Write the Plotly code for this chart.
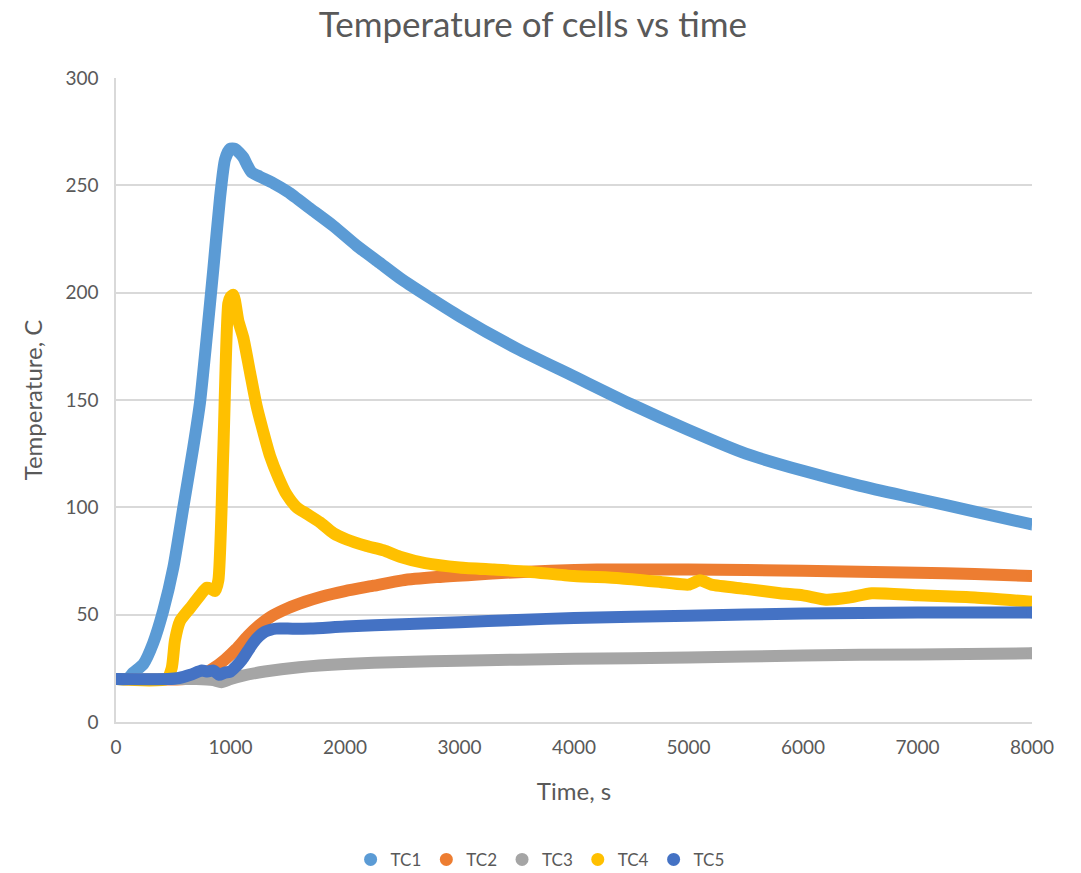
import plotly.graph_objects as go

# Thermocouple readings (time in s, temperature in C)
tc1_t = [0, 100, 151, 239, 326, 413, 501, 588, 675, 734, 792, 850, 908, 952, 996, 1039, 1080, 1112,
         1150, 1185, 1258, 1374, 1500, 1700, 1900, 2100, 2300, 2500, 3000, 3500, 4000, 4500, 5000,
         5500, 6000, 6500, 7000, 7500, 8000]
tc1_v = [20, 20, 23, 27, 37, 52, 72, 100, 128, 149, 179, 211, 244, 262, 267, 267, 265, 263,
         259, 256, 254, 251, 247, 239, 231, 222, 214, 206, 189, 174, 161, 148, 136,
         125, 117, 110, 104, 98, 92]

tc2_t = [0, 600, 750, 850, 950, 1050, 1150, 1250, 1350, 1500, 1650, 1800, 2000, 2250, 2500, 2800,
         3100, 3400, 3800, 4200, 5000, 6000, 7000, 7500, 8000]
tc2_v = [20, 20, 22, 25, 29, 34, 40, 45, 49, 53, 56, 58.5, 61, 63.5, 66, 67.5,
         68.5, 69.5, 70.5, 71, 71, 70.5, 69.5, 69, 68]

tc3_t = [0, 700, 850, 920, 1000, 1100, 1300, 1600, 2000, 2500, 3000, 4000, 5000, 6000, 7000, 8000]
tc3_v = [20, 20, 19.5, 18.5, 20, 21.5, 23.5, 25.5, 27, 28, 28.5, 29.5, 30, 31, 31.5, 32]

tc4_t = [0, 440, 486, 515, 559, 646, 734, 792, 830, 865, 894, 937, 981, 1000, 1025, 1068, 1112,
         1170, 1229, 1287, 1345, 1418, 1490, 1578, 1665, 1782, 1898, 2015, 2189, 2335, 2480,
         2700, 3000, 3300, 3600, 4000, 4400, 4800, 5000, 5100, 5200, 5500, 5800, 6000, 6200,
         6400, 6600, 7000, 7500, 8000]
tc4_v = [20, 20, 25, 38, 47, 53, 59, 62.5, 62, 61, 66, 126, 195, 198, 199, 187, 179,
         163, 147, 135, 124, 114, 106, 100, 97, 93, 88, 85, 82, 80, 77,
         74, 72, 71, 70, 68, 67, 65, 64, 66, 64, 62, 60, 59, 57,
         58, 60, 59, 58, 56]

tc5_t = [0, 450, 550, 650, 750, 800, 850, 900, 950, 1000, 1050, 1100, 1150, 1200, 1250, 1300,
         1350, 1400, 1500, 1700, 2000, 2500, 3000, 3500, 4000, 5000, 6000, 7000, 8000]
tc5_v = [20, 20, 20.5, 22, 24, 23.5, 24, 22, 23, 23.5, 26, 29, 33, 37, 40, 42,
         43, 43.5, 43.5, 43.5, 44.5, 45.5, 46.5, 47.5, 48.5, 49.5, 50.5, 51, 51]

series = [
    ("TC1", tc1_t, tc1_v, "#5B9BD5"),
    ("TC2", tc2_t, tc2_v, "#ED7D31"),
    ("TC3", tc3_t, tc3_v, "#A5A5A5"),
    ("TC4", tc4_t, tc4_v, "#FFC000"),
    ("TC5", tc5_t, tc5_v, "#4472C4"),
]

FONT = "Lato"
GREY = "#595959"
LW = 12

fig = go.Figure()
for name, t, v, col in series:
    # rounded caps at both ends of each thick line
    sizes = [0] * len(t)
    sizes[0] = LW
    sizes[-1] = LW
    fig.add_trace(go.Scatter(
        x=t, y=v, mode="lines+markers", name=name, showlegend=False,
        line=dict(color=col, width=LW, shape="spline", smoothing=0.6),
        marker=dict(color=col, size=sizes, line=dict(width=0)),
        hoverinfo="x+y+name",
    ))
for name, t, v, col in series:
    fig.add_trace(go.Scatter(
        x=[None], y=[None], mode="markers", name=name,
        marker=dict(color=col, size=13),
    ))

fig.update_layout(
    width=1081, height=873,
    paper_bgcolor="white", plot_bgcolor="white",
    margin=dict(l=116, r=49, t=78, b=151, autoexpand=False),
    font=dict(family=FONT, color=GREY, size=19),
    title=dict(text="Temperature of cells vs time", x=0.493, xanchor="center",
               y=0.972, yanchor="middle", font=dict(size=35, color=GREY, family=FONT)),
    legend=dict(orientation="h", x=0.463, xanchor="center", yref="container",
                y=0.015, yanchor="middle", itemwidth=30,
                font=dict(size=17, color=GREY, family=FONT)),
    xaxis=dict(
        range=[0, 8000], dtick=1000, tick0=0, showgrid=False,
        showline=True, linecolor="#d9d9d9", linewidth=1.5,
        ticks="", tickfont=dict(size=19, color=GREY), zeroline=False,
        ticklabelstandoff=7,
        title=dict(text="Time, s", font=dict(size=24, color=GREY), standoff=27),
    ),
    yaxis=dict(
        range=[0, 300], dtick=50, tick0=0, showgrid=True, gridcolor="#d9d9d9", gridwidth=1.5,
        showline=True, linecolor="#d9d9d9", linewidth=1.5,
        ticks="", tickfont=dict(size=19, color=GREY), zeroline=False,
        ticklabelstandoff=12,
        title=dict(text="Temperature, C", font=dict(size=24, color=GREY), standoff=16),
    ),
)

fig.write_html("out.html")
